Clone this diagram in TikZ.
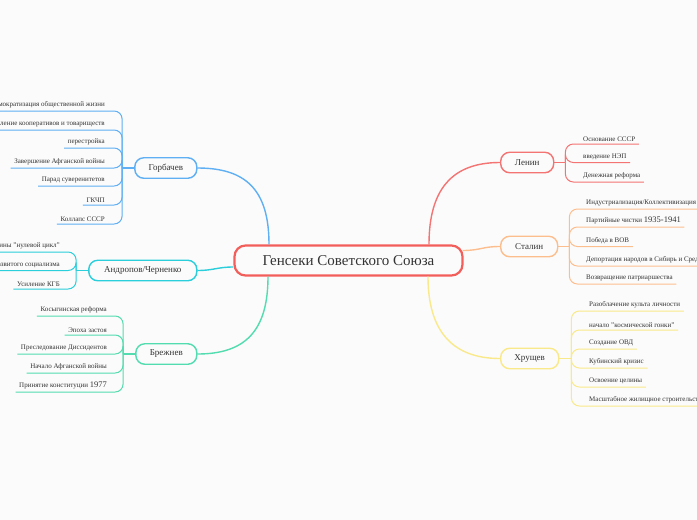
\documentclass[tikz,border=0pt]{standalone}
\usepackage{fontspec}
\setmainfont{Liberation Serif}
\definecolor{bg}{HTML}{FBFBFB}
\definecolor{txt}{HTML}{333333}
\definecolor{cred}{HTML}{F25E5A}
\definecolor{lred}{HTML}{F47373}
\definecolor{sor}{HTML}{FDBE8E}
\definecolor{kye}{HTML}{F9E98A}
\definecolor{gbl}{HTML}{5EAFF3}
\definecolor{acy}{HTML}{2BCEDB}
\definecolor{bgr}{HTML}{52DCAF}
\newcommand{\mydigs}[1]{{\fontsize{8.5}{8.5}\selectfont #1}}
\begin{document}
\begin{tikzpicture}[x=1pt,y=-1pt,
  mainnode/.style={draw, line width=1.4pt, rounded corners=9pt, fill=bg, minimum height=20.5pt, inner xsep=6pt, inner ysep=2pt, font=\fontsize{9}{10}\selectfont, text=txt},
  leaf/.style={inner xsep=3.5pt, inner ysep=2.6pt, font=\fontsize{7}{8}\selectfont, text=txt},
  lleaf/.style={leaf, anchor=south east},
  rleaf/.style={leaf, anchor=south west},
  branch/.style={line width=1.4pt},
  twig/.style={line width=1pt, rounded corners=8pt}
]
\useasboundingbox (0,0) rectangle (697,520);
\fill[bg] (0,0) rectangle (697,520);
\clip (0,0) rectangle (697,520);

% central
\node[draw=cred, line width=2.2pt, rounded corners=11pt, fill=bg, minimum width=228pt, minimum height=30pt, font=\fontsize{15}{16}\selectfont, text=txt] (c) at (348.5,260.5) {Генсеки Советского Союза};

% main nodes
\node[mainnode, draw=lred, minimum width=53pt, anchor=west] (len) at (500,162.5) {Ленин};
\node[mainnode, draw=sor, minimum width=57pt, anchor=west] (sta) at (500,246.5) {Сталин};
\node[mainnode, draw=kye, minimum width=58pt, anchor=west] (khr) at (500,358.5) {Хрущев};
\node[mainnode, draw=gbl, minimum width=62pt, anchor=east] (gor) at (197.5,168) {Горбачев};
\node[mainnode, draw=acy, minimum width=108pt, anchor=east] (and) at (197.5,270.5) {Андропов/Черненко};
\node[mainnode, draw=bgr, minimum width=61pt, anchor=east] (bre) at (197.5,354) {Брежнев};

% main connectors
\draw[branch, lred] ([xshift=80.5pt]c.north) .. controls +(0,-55) and +(-48,0) .. (len.west);
\draw[branch, sor] ([yshift=10pt,xshift=-1pt]c.east) .. controls +(18,0) and +(-18,0) .. (sta.west);
\draw[branch, kye] ([xshift=79.5pt]c.south) .. controls +(0,54) and +(-48,0) .. (khr.west);
\draw[branch, gbl] ([xshift=-79.5pt]c.north) .. controls +(0,-55) and +(48,0) .. (gor.east);
\draw[branch, acy] ([yshift=-6.5pt]c.west) .. controls +(-16,0) and +(16,0) .. (and.east);
\draw[branch, bgr] ([xshift=-80.5pt]c.south) .. controls +(0,54) and +(48,0) .. (bre.east);

% junctions
\coordinate (lenJ) at ([xshift=11pt]len.east);
\coordinate (staJ) at ([xshift=11pt]sta.east);
\coordinate (khrJ) at ([xshift=12pt]khr.east);
\coordinate (gorJ) at ([xshift=-12pt]gor.west);
\coordinate (andJ) at ([xshift=-12pt]and.west);
\coordinate (breJ) at ([xshift=-12pt]bre.west);
\draw[branch, lred] (len.east) -- (lenJ);
\draw[branch, sor] (sta.east) -- (staJ);
\draw[branch, kye] (khr.east) -- (khrJ);
\draw[branch, gbl] (gor.west) -- (gorJ);
\draw[branch, acy] (and.west) -- (andJ);
\draw[branch, bgr] (bre.west) -- (breJ);

% Lenin leaves
\node[rleaf] (l1) at (579.5,144) {Основание СССР};
\node[rleaf] (l2) at (579.5,162.5) {введение НЭП};
\node[rleaf] (l3) at (579.5,182) {Денежная реформа};
\foreach \n in {l1,l2,l3} \draw[twig, lred] (lenJ) |- (\n.south east);

% Stalin leaves
\node[rleaf] (s1) at (582.5,209) {Индустриализация/Коллективизация};
\node[rleaf] (s2) at (582.5,227) {Партийные чистки \mydigs{1935-1941}};
\node[rleaf] (s3) at (582.5,246.5) {Победа в ВОВ};
\node[rleaf] (s4) at (582.5,266) {Депортация народов в Сибирь и Среднюю Азию};
\node[rleaf] (s5) at (582.5,284) {Возвращение патриаршества};
\foreach \n in {s1,s2,s3,s4,s5} \draw[twig, sor] (staJ) |- (\n.south east);

% Khrushchev leaves
\node[rleaf] (k1) at (585.5,311) {Разоблачение культа личности};
\node[rleaf] (k2) at (585.5,330) {начало "космической гонки"};
\node[rleaf] (k3) at (585.5,349) {Создание ОВД};
\node[rleaf] (k4) at (585.5,368) {Кубинский кризис};
\node[rleaf] (k5) at (585.5,387) {Освоение целины};
\node[rleaf] (k6) at (585.5,406) {Масштабное жилищное строительство};
\foreach \n in {k1,k2,k3,k4,k5,k6} \draw[twig, kye] (khrJ) |- (\n.south east);

% Gorbachev leaves
\node[lleaf] (g1) at (108.5,111) {Демократизация общественной жизни};
\node[lleaf] (g2) at (108.5,130) {Появление кооперативов и товариществ};
\node[lleaf] (g3) at (108.5,148) {перестройка};
\node[lleaf] (g4) at (108.5,168) {Завершение Афганской войны};
\node[lleaf] (g5) at (108.5,186) {Парад суверенитетов};
\node[lleaf] (g6) at (108.5,205) {ГКЧП};
\node[lleaf] (g7) at (108.5,224) {Коллапс СССР};
\foreach \n in {g1,g2,g3,g4,g5,g6,g7} \draw[twig, gbl] (gorJ) |- (\n.south west);

% Andropov leaves
\node[lleaf] (a1) at (63.5,252) {Укрепление дисциплины "нулевой цикл"};
\node[lleaf] (a2) at (63.5,270.5) {Концепция развитого социализма};
\node[lleaf] (a3) at (63.5,289) {Усиление КГБ};
\foreach \n in {a1,a2,a3} \draw[twig, acy] (andJ) |- (\n.south west);

% Brezhnev leaves
\node[lleaf] (b1) at (110.5,316) {Косыгинская реформа};
\node[lleaf] (b2) at (110.5,335) {Эпоха застоя};
\node[lleaf] (b3) at (110.5,354) {Преследование Диссидентов};
\node[lleaf] (b4) at (110.5,373) {Начало Афганской войны};
\node[lleaf] (b5) at (110.5,392) {Принятие конституции \mydigs{1977}};
\foreach \n in {b1,b2,b3,b4,b5} \draw[twig, bgr] (breJ) |- (\n.south west);
\end{tikzpicture}
\end{document}
